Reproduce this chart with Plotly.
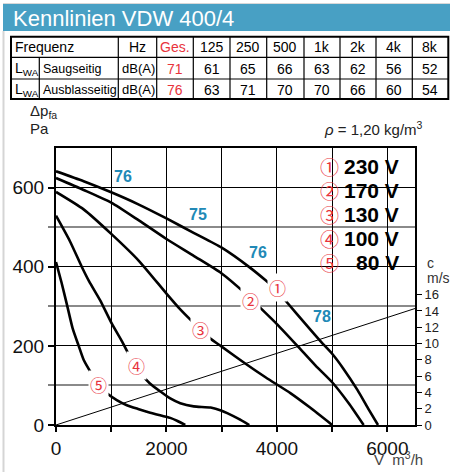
import plotly.graph_objects as go

# ---------------- data ----------------
q1 = [0, 500, 1000, 1500, 2000, 2500, 3000, 3500, 3800, 4000, 4200, 4500, 4800, 5000, 5200, 5460, 5650, 5830]
p1 = [641, 616, 588, 557, 522, 485, 448, 399, 365, 340, 307, 258, 210, 180, 143, 88, 42, 0]

q2 = [0, 500, 1000, 1500, 2000, 2500, 3000, 3400, 3700, 4000, 4370, 4700, 5000, 5300, 5570]
p2 = [624, 594, 562, 517, 470, 427, 383, 336, 296, 255, 200, 150, 108, 55, 0]

q3 = [0, 500, 1000, 1500, 2000, 2250, 2500, 2800, 3000, 3400, 3800, 4250, 4600, 5000]
p3 = [589, 545, 483, 415, 332, 292, 257, 218, 198, 158, 120, 80, 44, 0]

q4 = [0, 250, 466, 600, 800, 1011, 1200, 1343, 1537, 1700, 1887, 2069, 2250, 2492, 2800, 3000, 3100, 3300, 3500]
p4 = [529, 465, 400, 363, 315, 256, 210, 172, 130, 105, 85, 67, 55, 47, 44, 36, 30, 16, 0]

q5 = [0, 100, 200, 300, 411, 500, 677, 768, 920, 1100, 1283, 1500, 1706, 1900, 2069, 2200, 2340]
p5 = [412, 360, 303, 245, 200, 165, 122, 102, 80, 63, 50, 40, 31, 24, 18, 10, 0]

vel_q = [0, 6500]
vel_c = [0, 14.3]

circ = ["①", "②", "③", "④", "⑤"]
volts = ["230 V", "170 V", "130 V", "100 V", "80 V"]
lab_q = [4005, 3521, 2613, 1452, 768]
lab_p = [347, 315, 241, 151, 102]

blue_text = ["76", "75", "76", "78"]
blue_q = [1222, 2571, 3660, 4809]
blue_p = [627, 531, 435, 273]

header = ["Hz", "Ges.", "125", "250", "500", "1k", "2k", "4k", "8k"]
row_names = ["Saugseitig", "Ausblasseitig"]
totals = [71, 76]
saug = [61, 65, 66, 63, 62, 56, 52]
ausblas = [63, 71, 70, 70, 66, 60, 54]

x_ticks = [0, 1000, 2000, 3000, 4000, 5000, 6000]
x_ticktext = ["0", "", "2000", "", "4000", "", "6000"]
y_major = [0, 200, 400, 600]
y_minor = [100, 300, 500]
c_ticks = [0, 2, 4, 6, 8, 10, 12, 14, 16]

# ---------------- geometry helpers (page pixel coords) ----------------
L, R, T, B = 56, 415, 148, 425
W, H = 450, 472


def px(x):
    return (x - L) / (R - L)


def py(y):
    return (B - y) / (B - T)


RED = "#e8333c"
BLUE = "#2189b6"
FONT = "Liberation Sans, Arial, sans-serif"
TFONT = "Liberation Sans, Arial, sans-serif"
CJK = "Noto Sans CJK JP, DejaVu Sans, sans-serif"

fig = go.Figure()

for q, p in [(q1, p1), (q2, p2), (q3, p3), (q4, p4), (q5, p5)]:
    fig.add_trace(go.Scatter(x=q, y=p, mode="lines",
                             line=dict(color="black", width=2.6, shape="spline", smoothing=0.6),
                             hoverinfo="skip", showlegend=False))

fig.add_trace(go.Scatter(x=vel_q, y=vel_c, yaxis="y2", mode="lines",
                         line=dict(color="black", width=1), hoverinfo="skip", showlegend=False))

shapes = []
ann = []

# banner
shapes.append(dict(type="rect", xref="paper", yref="paper", x0=px(3), x1=px(452), y0=py(4), y1=py(31),
                   fillcolor="rgb(72,160,196)", line=dict(width=0), layer="above"))
shapes.append(dict(type="line", xref="paper", yref="paper", x0=px(3), x1=px(452), y0=py(3.5), y1=py(3.5),
                   line=dict(color="#d8d8d8", width=1)))
shapes.append(dict(type="line", xref="paper", yref="paper", x0=px(3.5), x1=px(3.5), y0=py(31), y1=py(474),
                   line=dict(color="#d5d5d5", width=2)))
ann.append(dict(text="Kennlinien VDW 400/4", x=px(11), y=py(18.5), xref="paper", yref="paper",
                xanchor="left", yanchor="middle", showarrow=False,
                font=dict(family=FONT, size=22, color="white")))

# table
tx0, tx1 = 11, 448.3
ty = [36.7, 57.3, 79, 99]
cb = [118.3, 156.7, 193.3, 230, 266.7, 304, 340, 376, 412.3, 448.3]
shapes.append(dict(type="rect", xref="paper", yref="paper", x0=px(tx0), x1=px(tx1), y0=py(ty[0]), y1=py(ty[3]),
                   line=dict(color="black", width=2)))
for yy in ty[1:3]:
    shapes.append(dict(type="line", xref="paper", yref="paper", x0=px(tx0), x1=px(tx1), y0=py(yy), y1=py(yy),
                       line=dict(color="black", width=1.2)))
for xx in cb[:-1]:
    shapes.append(dict(type="line", xref="paper", yref="paper", x0=px(xx), x1=px(xx), y0=py(ty[0]), y1=py(ty[3]),
                       line=dict(color="black", width=1.2)))
shapes.append(dict(type="line", xref="paper", yref="paper", x0=px(39.3), x1=px(39.3), y0=py(ty[1]), y1=py(ty[3]),
                   line=dict(color="black", width=1.2)))

rc = [(ty[0] + ty[1]) / 2, (ty[1] + ty[2]) / 2, (ty[2] + ty[3]) / 2]
cc = [(cb[i] + cb[i + 1]) / 2 for i in range(len(cb) - 1)]


def tcell(text, x, y, color="black", anchor="center", size=14):
    ann.append(dict(text=text, x=px(x), y=py(y + 0.5), xref="paper", yref="paper", xanchor=anchor,
                    yanchor="middle", showarrow=False, font=dict(family=TFONT, size=size, color=color)))


tcell("Frequenz", 12.5, rc[0], anchor="left")
for i, h in enumerate(header):
    tcell(h, cc[i], rc[0], color=RED if i == 1 else "black")
for r, (name, tot, vals) in enumerate(zip(row_names, totals, [saug, ausblas])):
    y = rc[r + 1]
    tcell("L<sub>WA</sub>", 12.5, y, anchor="left")
    tcell(name, 40.5, y, anchor="left", size=12.5)
    tcell("dB(A)", cc[0] + 0.5, y, size=13)
    tcell(str(tot), cc[1], y, color=RED)
    for j, v in enumerate(vals):
        tcell(str(v), cc[j + 2], y)

# axis captions
ann.append(dict(text="Δp<sub>fa</sub>", x=px(28), y=py(112), xref="paper", yref="paper", xanchor="left",
                yanchor="middle", showarrow=False, font=dict(family=FONT, size=15, color="#222")))
ann.append(dict(text="Pa", x=px(28), y=py(128), xref="paper", yref="paper", xanchor="left",
                yanchor="middle", showarrow=False, font=dict(family=FONT, size=15, color="#222")))
ann.append(dict(text="<i>ρ</i> = 1,20 kg/m<sup>3</sup>", x=px(425), y=py(128), xref="paper", yref="paper",
                xanchor="right", yanchor="middle", showarrow=False, font=dict(family=FONT, size=15, color="#222")))
ann.append(dict(text="c", x=px(425), y=py(263), xref="paper", yref="paper", xanchor="left",
                yanchor="middle", showarrow=False, font=dict(family=FONT, size=14, color="#333")))
ann.append(dict(text="m/s", x=px(425), y=py(278), xref="paper", yref="paper", xanchor="left",
                yanchor="middle", showarrow=False, font=dict(family=FONT, size=14, color="#333")))
ann.append(dict(text="V\u0307  m<sup>3</sup>/h", x=px(425), y=py(458), xref="paper", yref="paper",
                xanchor="right", yanchor="middle", showarrow=False, font=dict(family=FONT, size=15, color="#444")))

# legend box (white, covering grid)
shapes.append(dict(type="rect", xref="paper", yref="paper", x0=px(321), x1=px(409), y0=py(153), y1=py(272),
                   fillcolor="white", line=dict(width=0), layer="between"))
for i, (c, v) in enumerate(zip(circ, volts)):
    yy = 166.5 + i * 23.9
    ann.append(dict(text=c, x=px(329.5), y=py(yy), xref="paper", yref="paper", xanchor="center",
                    yanchor="middle", showarrow=False, font=dict(family=CJK, size=19, color=RED)))
    ann.append(dict(text="<b>" + v + "</b>", x=px(401), y=py(yy), xref="paper", yref="paper",
                    xanchor="right", yanchor="middle", showarrow=False,
                    font=dict(family=FONT, size=21, color="black")))

# labels on curves
for c, q, p in zip(circ, lab_q, lab_p):
    ann.append(dict(text=c, x=q, y=p, xref="x", yref="y", xanchor="center", yanchor="middle",
                    showarrow=False, bgcolor="white", borderpad=1,
                    font=dict(family=CJK, size=17, color=RED)))
for t, q, p in zip(blue_text, blue_q, blue_p):
    ann.append(dict(text="<b>" + t + "</b>", x=q, y=p, xref="x", yref="y", xanchor="center",
                    yanchor="middle", showarrow=False, font=dict(family=FONT, size=16, color=BLUE)))

fig.update_layout(
    width=W, height=H, autosize=False,
    margin=dict(l=L, r=W - R, t=T, b=H - B, pad=0, autoexpand=False),
    paper_bgcolor="white", plot_bgcolor="white",
    showlegend=False,
    xaxis=dict(range=[0, 6500], tickmode="array", tickvals=x_ticks, ticktext=x_ticktext,
               ticks="outside", ticklen=5, tickwidth=1.5, tickcolor="black", automargin=False,
               showgrid=True, gridcolor="black", gridwidth=1.3,
               showline=True, linecolor="black", linewidth=2, mirror=True, zeroline=False,
               tickfont=dict(family=FONT, size=19, color="#111")),
    yaxis=dict(range=[0, 700], tickmode="array", tickvals=y_major, automargin=False,
               ticks="outside", ticklen=6, tickwidth=1.5, tickcolor="black",
               showgrid=True, gridcolor="black", gridwidth=1.3,
               minor=dict(tickmode="array", tickvals=y_minor, ticks="outside", ticklen=6, tickcolor="#808080",
                          tickwidth=2, showgrid=True, gridcolor="#8a8a8a", gridwidth=2),
               showline=True, linecolor="black", linewidth=2, mirror=True, zeroline=False,
               tickfont=dict(family=FONT, size=19, color="#111")),
    yaxis2=dict(range=[0, 34], overlaying="y", side="right", tickmode="array", tickvals=c_ticks,
                ticks="outside", ticklen=6, tickwidth=1.2, tickcolor="black", automargin=False,
                showgrid=False, showline=False, zeroline=False,
                tickfont=dict(family=FONT, size=13, color="#222")),
    shapes=shapes, annotations=ann,
)

fig.write_html("out.html", config={"displayModeBar": False},
               post_script="document.body.style.margin='0';document.body.style.padding='0';"
                           "document.body.style.overflow='hidden';")
